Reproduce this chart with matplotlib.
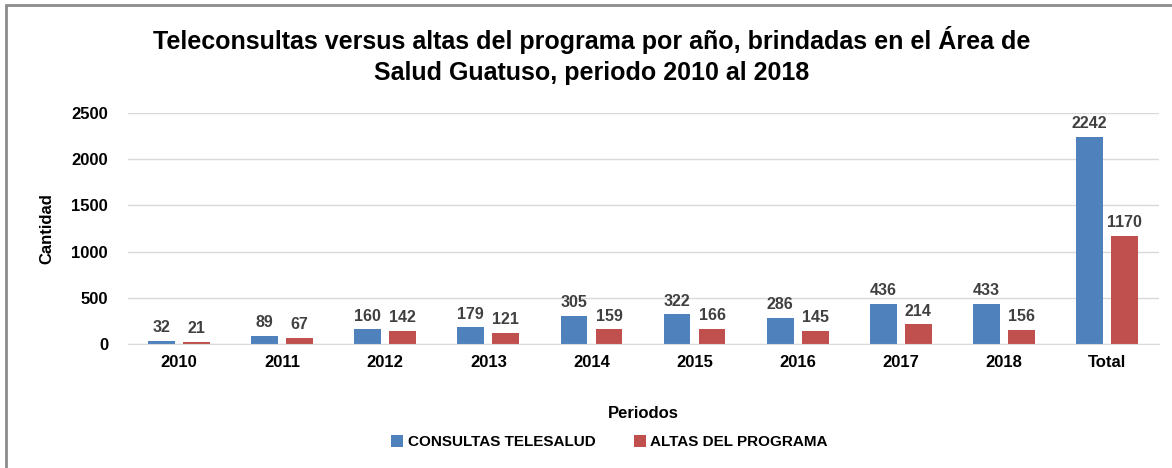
import numpy as np
import matplotlib.pyplot as plt
from matplotlib.patches import Rectangle

# Data
periodos = ["2010", "2011", "2012", "2013", "2014", "2015", "2016", "2017", "2018", "Total"]
consultas = [32, 89, 160, 179, 305, 322, 286, 436, 433, 2242]
altas = [21, 67, 142, 121, 159, 166, 145, 214, 156, 1170]

azul = "#4F81BD"
rojo = "#C0504D"

plt.rcParams["font.family"] = ["Liberation Sans", "DejaVu Sans"]
plt.rcParams["font.weight"] = "bold"

fig = plt.figure(figsize=(11.72, 4.68), dpi=100)
ax = fig.add_axes([0.1088, 0.265, 0.8797, 0.4935])

x = np.arange(len(periodos))
w = 0.26
off = 0.17
b1 = ax.bar(x - off, consultas, w, color=azul, label="CONSULTAS TELESALUD")
b2 = ax.bar(x + off, altas, w, color=rojo, label="ALTAS DEL PROGRAMA")

for bars in (b1, b2):
    for b in bars:
        ax.text(b.get_x() + b.get_width() / 2, b.get_height() + 60, str(int(b.get_height())),
                ha="center", va="bottom", fontsize=11.5, color="#404040", fontweight="bold")

ax.set_xlim(-0.5, len(periodos) - 0.5)
ax.set_ylim(0, 2500)
ax.set_yticks(range(0, 2501, 500))
ax.set_xticks(x)
ax.set_xticklabels(periodos, fontsize=12, fontweight="bold")
ax.tick_params(axis="y", labelsize=12, length=0, pad=14)
ax.tick_params(axis="x", length=0, pad=8)
ax.grid(axis="y", color="#D9D9D9", linewidth=1)
ax.set_axisbelow(True)
for s in ["top", "right", "left"]:
    ax.spines[s].set_visible(False)
ax.spines["bottom"].set_color("#D9D9D9")

ax.set_ylabel("Cantidad", fontsize=12, fontweight="bold", labelpad=12)
ax.set_xlabel("Periodos", fontsize=12, fontweight="bold", labelpad=26)

fig.text(0.505, 0.882, "Teleconsultas versus altas del programa por año, brindadas en el Área de\nSalud Guatuso, periodo 2010 al 2018",
         ha="center", va="center", fontsize=18, fontweight="bold", linespacing=1.35)

fig.legend(loc="center", bbox_to_anchor=(0.52, 0.055), ncol=2, frameon=False,
           fontsize=11, handlelength=0.8, handleheight=0.8, handletextpad=0.3, columnspacing=2.5)

# outer border
fig.patches.append(Rectangle((0.0055, -0.05), 1.1, 1.04, transform=fig.transFigure,
                             fill=False, edgecolor="#8C8C8C", linewidth=2))

fig.savefig("out.png", dpi=100)
